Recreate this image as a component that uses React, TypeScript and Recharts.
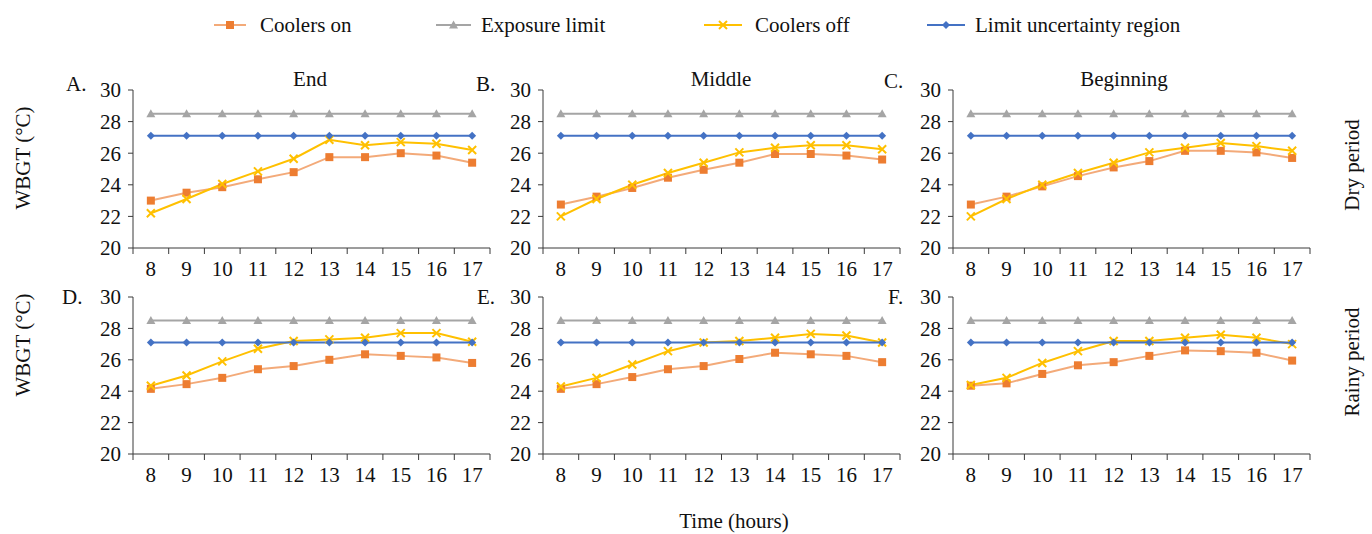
import React from 'react';
import { LineChart, Line, XAxis, YAxis } from 'recharts';

// ---------- data ----------
const hours = [8, 9, 10, 11, 12, 13, 14, 15, 16, 17];
const xTicks = [7.5, 8, 8.5, 9, 9.5, 10, 10.5, 11, 11.5, 12, 12.5, 13, 13.5, 14, 14.5, 15, 15.5, 16, 16.5, 17, 17.5];
const yTicks = [20, 22, 24, 26, 28, 30];

const exposureLimit = [28.5, 28.5, 28.5, 28.5, 28.5, 28.5, 28.5, 28.5, 28.5, 28.5];
const uncertaintyLimit = [27.1, 27.1, 27.1, 27.1, 27.1, 27.1, 27.1, 27.1, 27.1, 27.1];

const dryEndOn = [23.0, 23.5, 23.85, 24.35, 24.8, 25.75, 25.75, 26.0, 25.85, 25.4];
const dryEndOff = [22.2, 23.1, 24.05, 24.85, 25.65, 26.85, 26.5, 26.7, 26.6, 26.2];
const dryMiddleOn = [22.75, 23.25, 23.8, 24.45, 24.95, 25.4, 25.95, 25.95, 25.85, 25.6];
const dryMiddleOff = [22.0, 23.1, 24.0, 24.75, 25.4, 26.05, 26.35, 26.5, 26.5, 26.25];
const dryBeginOn = [22.75, 23.25, 23.9, 24.55, 25.1, 25.5, 26.15, 26.15, 26.05, 25.7];
const dryBeginOff = [22.0, 23.1, 24.0, 24.75, 25.4, 26.05, 26.35, 26.65, 26.45, 26.15];
const rainyEndOn = [24.15, 24.45, 24.85, 25.4, 25.6, 26.0, 26.35, 26.25, 26.15, 25.8];
const rainyEndOff = [24.35, 25.0, 25.9, 26.7, 27.2, 27.3, 27.4, 27.7, 27.7, 27.15];
const rainyMiddleOn = [24.15, 24.45, 24.9, 25.4, 25.6, 26.05, 26.45, 26.35, 26.25, 25.85];
const rainyMiddleOff = [24.3, 24.85, 25.7, 26.55, 27.1, 27.2, 27.4, 27.65, 27.55, 27.1];
const rainyBeginOn = [24.35, 24.5, 25.1, 25.65, 25.85, 26.25, 26.6, 26.55, 26.45, 25.95];
const rainyBeginOff = [24.4, 24.85, 25.8, 26.55, 27.2, 27.2, 27.4, 27.6, 27.4, 27.0];

const seriesNames = ['Coolers on', 'Exposure limit', 'Coolers off', 'Limit uncertainty region'];
const panelTitles = ['End', 'Middle', 'Beginning'];
const panelLetters = ['A.', 'B.', 'C.', 'D.', 'E.', 'F.'];
const periodLabels = ['Dry period', 'Rainy period'];
const yAxisTitle = 'WBGT (°C)';
const xAxisTitle = 'Time (hours)';

// ---------- style / layout ----------
const FONT = 'Liberation Serif, DejaVu Serif, serif';
const FS = 21;
const AX = '#3a3a3a';
const C_ON = '#ED7D31';
const C_LIM = '#A5A5A5';
const C_OFF = '#FFC000';
const C_UNC = '#4472C4';

const YW = 60;
const MT = 20;
const MR = 10;
const XH = 40;
const PW = 357;
const colLeft = [133, 543, 953];
const rowTop = [90, 297];
const rowH = [158, 157];
const titleX = [310, 721, 1124];

const panelOn = [dryEndOn, dryMiddleOn, dryBeginOn, rainyEndOn, rainyMiddleOn, rainyBeginOn];
const panelOff = [dryEndOff, dryMiddleOff, dryBeginOff, rainyEndOff, rainyMiddleOff, rainyBeginOff];

const square = (color: string) => (p: any) =>
  p.cx == null ? <g key={p.index} /> : <rect key={p.index} x={p.cx - 4} y={p.cy - 4} width={8} height={8} fill={color} />;
const triangle = (color: string) => (p: any) =>
  p.cx == null ? <g key={p.index} /> : (
    <polygon key={p.index} points={`${p.cx},${p.cy - 4.5} ${p.cx + 4.5},${p.cy + 3.5} ${p.cx - 4.5},${p.cy + 3.5}`} fill={color} />
  );
const cross = (color: string) => (p: any) =>
  p.cx == null ? <g key={p.index} /> : (
    <path key={p.index} d={`M${p.cx - 4},${p.cy - 4}L${p.cx + 4},${p.cy + 4}M${p.cx - 4},${p.cy + 4}L${p.cx + 4},${p.cy - 4}`} stroke={color} strokeWidth={2} fill="none" />
  );
const diamond = (color: string) => (p: any) =>
  p.cx == null ? <g key={p.index} /> : (
    <polygon key={p.index} points={`${p.cx},${p.cy - 4} ${p.cx + 4},${p.cy} ${p.cx},${p.cy + 4} ${p.cx - 4},${p.cy}`} fill={color} />
  );

const XTick = (props: any) => {
  const { x, y, payload } = props;
  const v = payload.value;
  if (Number.isInteger(v)) {
    return (
      <text x={x} y={y} dy="0.71em" textAnchor="middle" style={{ fontFamily: FONT, fontSize: FS }} fill="#111">
        {v}
      </text>
    );
  }
  return <line x1={x} x2={x} y1={y - 13} y2={y - 7} stroke={AX} strokeWidth={1} />;
};

function Panel({ on, off, left, top, plotH }: any) {
  const data = hours.map((h, i) => ({ h, on: on[i], lim: exposureLimit[i], off: off[i], unc: uncertaintyLimit[i] }));
  return (
    <div style={{ position: 'absolute', left: left - YW, top: top - MT }}>
      <LineChart width={YW + PW + MR} height={MT + plotH + XH} data={data} margin={{ top: MT, right: MR, left: 0, bottom: 0 }} style={{ fontFamily: FONT }}>
        <XAxis
          dataKey="h"
          type="number"
          domain={[7.5, 17.5]}
          ticks={xTicks}
          interval={0}
          tickSize={0}
          tickMargin={13}
          tickLine={false}
          axisLine={{ stroke: AX, strokeWidth: 1 }}
          height={XH}
          tick={(p: any) => <XTick {...p} />}
        />
        <YAxis
          type="number"
          domain={[20, 30]}
          ticks={yTicks}
          interval={0}
          width={YW}
          tickSize={5}
          tickMargin={7}
          axisLine={{ stroke: AX, strokeWidth: 1 }}
          tickLine={{ stroke: AX }}
          tick={{ fill: '#111', fontSize: FS, fontFamily: FONT, style: { fontFamily: FONT } }}
        />
        <Line dataKey="on" stroke={C_ON} strokeOpacity={0.65} strokeWidth={2} dot={square(C_ON)} activeDot={false} isAnimationActive={false} />
        <Line dataKey="lim" stroke={C_LIM} strokeWidth={2} dot={triangle(C_LIM)} activeDot={false} isAnimationActive={false} />
        <Line dataKey="off" stroke={C_OFF} strokeWidth={2} dot={cross(C_OFF)} activeDot={false} isAnimationActive={false} />
        <Line dataKey="unc" stroke={C_UNC} strokeWidth={2} dot={diamond(C_UNC)} activeDot={false} isAnimationActive={false} />
      </LineChart>
    </div>
  );
}

const legendPos = [
  { line: [214, 246], text: 260 },
  { line: [436, 471], text: 481 },
  { line: [704, 742], text: 755 },
  { line: [927, 965], text: 975 },
];
const legendColors = [C_ON, C_LIM, C_OFF, C_UNC];
const legendMarkers = [square, triangle, cross, diamond];
const letterPos = [
  [66, 91], [476, 91], [884, 88],
  [62, 304], [477, 304], [888, 304],
];

export default function App() {
  return (
    <div style={{ position: 'absolute', left: 0, top: 0, width: 1372, height: 534, background: '#fff', overflow: 'hidden', fontFamily: FONT }}>
      {panelOn.map((on, i) => (
        <Panel key={i} on={on} off={panelOff[i]} left={colLeft[i % 3]} top={rowTop[Math.floor(i / 3)]} plotH={rowH[Math.floor(i / 3)]} />
      ))}
      <svg width={1372} height={534} style={{ position: 'absolute', left: 0, top: 0, pointerEvents: 'none', fontFamily: FONT, fontSize: FS }} fill="#111">
        {seriesNames.map((name, i) => {
          const lp = legendPos[i];
          const cx = (lp.line[0] + lp.line[1]) / 2;
          const col = legendColors[i];
          return (
            <g key={name}>
              <line x1={lp.line[0]} x2={lp.line[1]} y1={25} y2={25} stroke={col} strokeWidth={2} strokeOpacity={i === 0 ? 0.65 : 1} />
              {legendMarkers[i](col)({ cx, cy: 25, index: 'lg' + i })}
              <text x={lp.text} y={32}>{name}</text>
            </g>
          );
        })}
        {panelTitles.map((t, i) => (
          <text key={t} x={titleX[i]} y={86} textAnchor="middle">{t}</text>
        ))}
        {panelLetters.map((t, i) => (
          <text key={t} x={letterPos[i][0]} y={letterPos[i][1]}>{t}</text>
        ))}
        {[158, 345].map((cy, i) => (
          <text key={'y' + i} x={23} y={cy} textAnchor="middle" dominantBaseline="central" transform={`rotate(-90 23 ${cy})`}>{yAxisTitle}</text>
        ))}
        {[165, 362].map((cy, i) => (
          <text key={'p' + i} x={1352} y={cy} textAnchor="middle" dominantBaseline="central" transform={`rotate(-90 1352 ${cy})`}>{periodLabels[i]}</text>
        ))}
        <text x={734} y={528} textAnchor="middle">{xAxisTitle}</text>
      </svg>
    </div>
  );
}
